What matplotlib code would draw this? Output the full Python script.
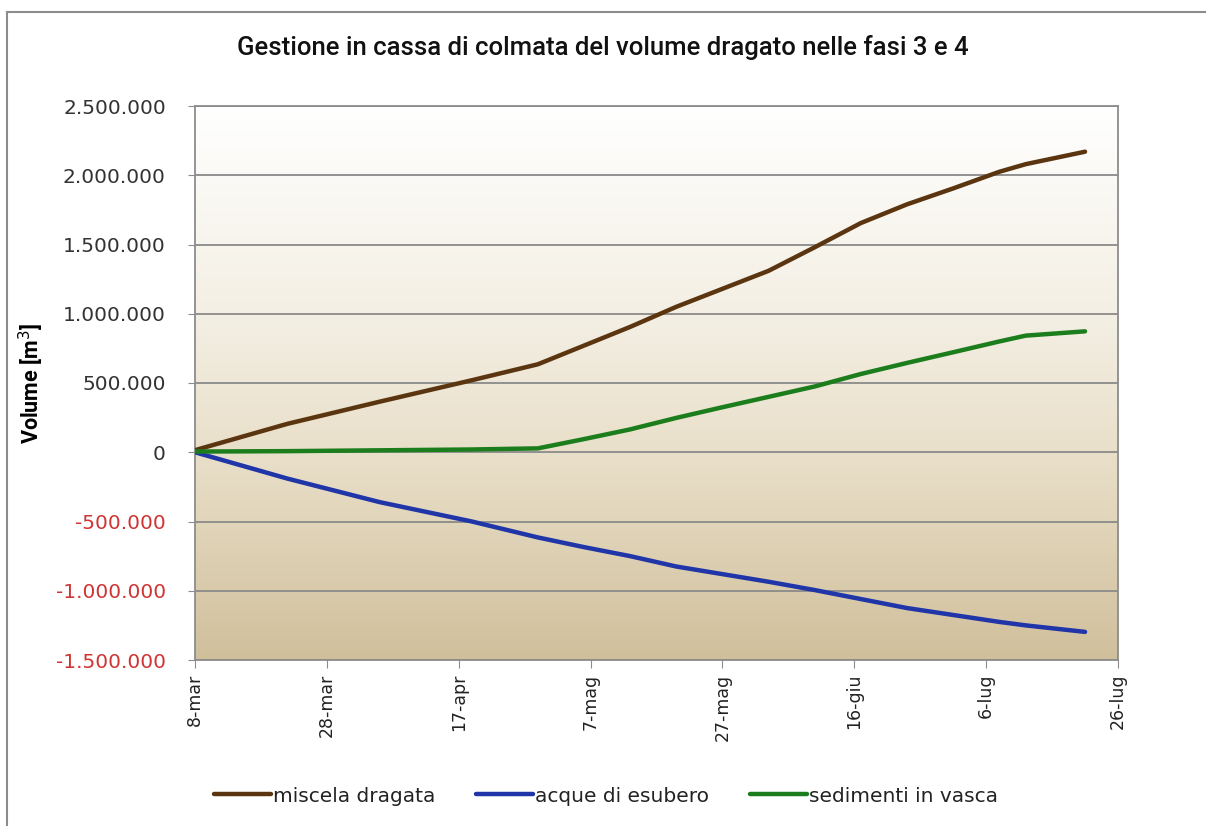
import numpy as np
import matplotlib
matplotlib.use("Agg")
import matplotlib.pyplot as plt
from matplotlib.colors import LinearSegmentedColormap
from matplotlib.lines import Line2D
from matplotlib.ticker import FuncFormatter

# Days elapsed since 8 March
giorni = [0, 14, 28, 42, 52, 59, 66, 73, 80, 87, 94, 101, 108, 115, 122, 126, 135]

miscela_dragata = [15000, 205000, 365000, 520000, 635000, 770000, 905000, 1050000,
                   1180000, 1310000, 1480000, 1655000, 1790000, 1905000, 2025000,
                   2080000, 2170000]
acque_di_esubero = [0, -190000, -360000, -500000, -615000, -685000, -750000, -825000,
                    -880000, -935000, -995000, -1060000, -1125000, -1175000, -1225000,
                    -1250000, -1297000]
sedimenti_in_vasca = [5000, 8000, 14000, 20000, 28000, 95000, 165000, 248000,
                      325000, 400000, 475000, 565000, 645000, 722000, 800000,
                      842000, 873000]

tick_giorni = [0, 20, 40, 60, 80, 100, 120, 140]
tick_etichette = ["8-mar", "28-mar", "17-apr", "7-mag", "27-mag", "16-giu", "6-lug", "26-lug"]
y_ticks = [-1500000, -1000000, -500000, 0, 500000, 1000000, 1500000, 2000000, 2500000]

titolo = "Gestione in cassa di colmata del volume dragato nelle fasi 3 e 4"
serie = [
    ("miscela dragata", miscela_dragata, "#5a3510"),
    ("acque di esubero", acque_di_esubero, "#1f35a8"),
    ("sedimenti in vasca", sedimenti_in_vasca, "#1b7d1b"),
]

W, H = 1206, 826
fig = plt.figure(figsize=(W / 100, H / 100), dpi=100)
fig.patch.set_facecolor("white")

# outer chart frame (top and left edges)
fig.add_artist(Line2D([7 / W, 1.0], [1 - 12 / H, 1 - 12 / H], color="#8c8c8c", lw=1.5,
                      transform=fig.transFigure))
fig.add_artist(Line2D([7 / W, 7 / W], [0.0, 1 - 12 / H], color="#8c8c8c", lw=1.5,
                      transform=fig.transFigure))

ax = fig.add_axes([195 / W, 1 - 660 / H, (1118 - 195) / W, (660 - 106) / H])

# vertical gradient background of the plot area
cmap = LinearSegmentedColormap.from_list(
    "sfondo", [(0.0, "#d0bf9b"), (0.35, "#e8dec7"), (0.6, "#f3eee2"), (1.0, "#ffffff")])
grad = np.linspace(0, 1, 256).reshape(-1, 1)
ax.imshow(grad, cmap=cmap, aspect="auto", origin="lower",
          extent=[0, 1, 0, 1], transform=ax.transAxes, zorder=0)

for nome, valori, colore in serie:
    ax.plot(giorni, valori, color=colore, lw=3.2, solid_capstyle="round",
            solid_joinstyle="round", label=nome, zorder=3)

ax.set_xlim(0, 140)
ax.set_ylim(-1500000, 2500000)
ax.set_xticks(tick_giorni)
ax.set_xticklabels(tick_etichette, rotation=90, fontsize=12.5, color="#222222")
ax.set_yticks(y_ticks)
ax.yaxis.set_major_formatter(FuncFormatter(lambda v, p: f"{int(v):,}".replace(",", ".")))
ax.tick_params(axis="y", labelsize=14.5, length=5, color="#8c8c8c", pad=16)
ax.tick_params(axis="x", length=6, color="#8c8c8c", pad=4)
for lab, v in zip(ax.get_yticklabels(), y_ticks):
    lab.set_color("#d03535" if v < 0 else "#333333")

ax.grid(axis="y", color="#8a8a8a", lw=1.3, zorder=1)
ax.set_axisbelow(True)
for s in ax.spines.values():
    s.set_color("#8c8c8c")
    s.set_linewidth(1.3)

ax.set_ylabel("Volume [m$^3$]", fontsize=15.5, fontweight="bold", family="Roboto")
ax.yaxis.set_label_coords((46 - 195) / (1118 - 195), 0.5)

fig.text(603 / W, 1 - 48 / H, titolo, ha="center", va="center", fontsize=18.5,
         family="Roboto", fontweight="medium", color="#111111")

leg = fig.legend(loc="center", bbox_to_anchor=(606 / W, 1 - 796 / H), ncol=3,
                 frameon=False, handlelength=2.85, handletextpad=0.1,
                 columnspacing=2.0, prop={"family": "DejaVu Sans", "size": 14.5})
for t in leg.get_texts():
    t.set_color("#222222")

fig.savefig("out.png", dpi=100)
